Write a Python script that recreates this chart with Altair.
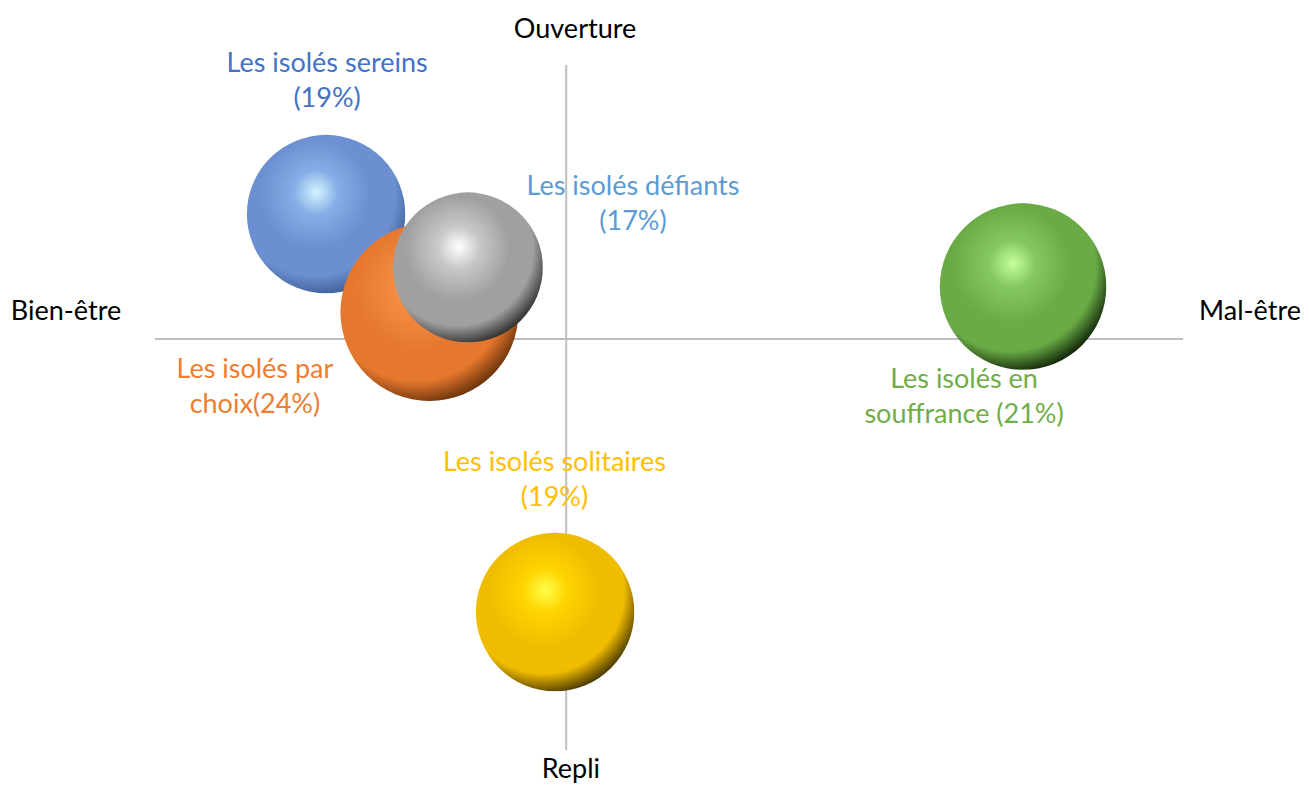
import altair as alt
import pandas as pd

# Bubble data
groups = ["sereins", "par choix", "défiants", "souffrance", "solitaires"]
bubble_x = [-1.168, -0.665, -0.478, 2.222, -0.054]
bubble_y = [0.912, 0.197, 0.522, 0.383, -1.993]
shares = [19, 24, 17, 21, 19]

# Labels (anchor = first text line)
label_text = [
    "Les isolés sereins\n(19%)",
    "Les isolés par\nchoix(24%)",
    "Les isolés défiants\n(17%)",
    "Les isolés en\nsouffrance (21%)",
    "Les isolés solitaires\n(19%)",
]
label_x = [-1.163, -1.514, 0.325, 1.935, -0.057]
label_y = [2.007, -0.226, 1.109, -0.299, -0.905]
label_colors = ["#4472C4", "#ED7D31", "#5B9BD5", "#70AD47", "#FFC000"]

# Gradient colours per bubble: highlight, light, base, edge
grad_colors = [
    ["#d4f4ff", "#86aee6", "#6b8fd0", "#3f5f98"],
    ["#ffa868", "#f48a40", "#e5772e", "#6e350b"],
    ["#ffffff", "#c8c8c8", "#a0a0a0", "#333333"],
    ["#c4ff9c", "#86c860", "#6aab46", "#142a0a"],
    ["#ffff48", "#ffd400", "#f0bc00", "#4e3c00"],
]

# Axis end labels
axis_names = ["Ouverture", "Repli", "Bien-être", "Mal-être"]
axis_x = [0.043, 0.023, -2.433, 3.326]
axis_y = [2.255, -3.146, 0.197, 0.197]

bubbles = pd.DataFrame({"group": groups, "x": bubble_x, "y": bubble_y, "share": shares})
labels = pd.DataFrame({"text": label_text, "x": label_x, "y": label_y, "color": label_colors})
axes_df = pd.DataFrame({"text": axis_names, "x": axis_x, "y": axis_y})
hline = pd.DataFrame({"x": [-2], "x2": [3], "y": [0]})
vline = pd.DataFrame({"x": [0], "y": [-3], "y2": [2]})

xs = alt.Scale(domain=[-2, 3], nice=False, zero=False)
ys = alt.Scale(domain=[-3, 2], nice=False, zero=False)
FONT = "Lato"
FS = 27

h = alt.Chart(hline).mark_rule(color="#bfbfbf", strokeWidth=2).encode(
    x=alt.X("x:Q", scale=xs, axis=None), x2="x2:Q", y=alt.Y("y:Q", scale=ys, axis=None)
)
v = alt.Chart(vline).mark_rule(color="#bfbfbf", strokeWidth=2).encode(
    x=alt.X("x:Q", scale=xs, axis=None), y=alt.Y("y:Q", scale=ys, axis=None), y2="y2:Q"
)

layers = [h, v]
for g, (hi, light, base, edge) in zip(groups, grad_colors):
    grad = {
        "gradient": "radial",
        "x1": 0.44, "y1": 0.36, "r1": 0.0,
        "x2": 0.42, "y2": 0.38, "r2": 0.64,
        "stops": [
            {"offset": 0.0, "color": hi},
            {"offset": 0.22, "color": light},
            {"offset": 0.55, "color": base},
            {"offset": 0.8, "color": base},
            {"offset": 1.0, "color": edge},
        ],
    }
    layers.append(
        alt.Chart(bubbles)
        .transform_filter(alt.datum.group == g)
        .mark_circle(fill=grad, opacity=1, fillOpacity=1, strokeWidth=0)
        .encode(
            x=alt.X("x:Q", scale=xs, axis=None),
            y=alt.Y("y:Q", scale=ys, axis=None),
            size=alt.Size("share:Q", scale=alt.Scale(domain=[0, 24], range=[0, 31684]), legend=None),
        )
    )

text_layer = alt.Chart(labels).mark_text(
    font=FONT, fontSize=FS, lineBreak="\n", lineHeight=35, align="center", baseline="middle"
).encode(
    x=alt.X("x:Q", scale=xs, axis=None),
    y=alt.Y("y:Q", scale=ys, axis=None),
    text="text:N",
    color=alt.Color("color:N", scale=None),
)
axis_text = alt.Chart(axes_df).mark_text(
    font=FONT, fontSize=FS, align="center", baseline="middle", color="#000000"
).encode(
    x=alt.X("x:Q", scale=xs, axis=None),
    y=alt.Y("y:Q", scale=ys, axis=None),
    text="text:N",
)
layers += [text_layer, axis_text]

chart = alt.layer(*layers).properties(
    width=1028,
    height=685,
    autosize=alt.AutoSizeParams(type="none"),
    padding={"left": 147, "top": 57, "right": 117, "bottom": 33},
).configure_view(stroke=None)

chart.save("out.html", embed_options={"renderer": "svg", "actions": False})
